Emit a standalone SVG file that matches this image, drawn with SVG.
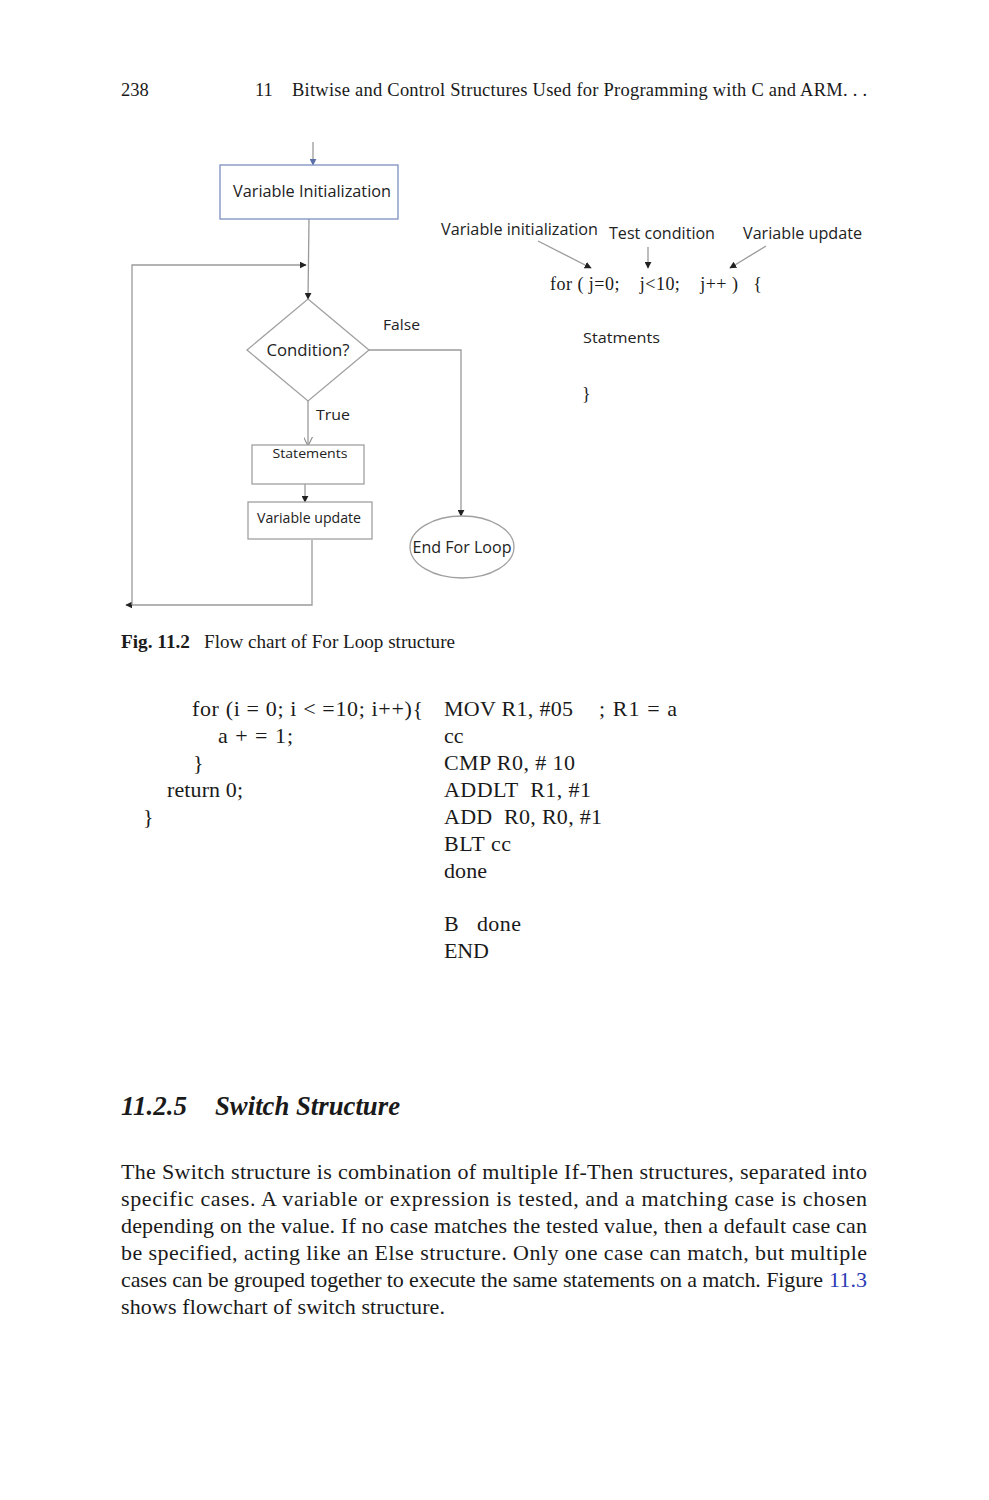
<svg xmlns="http://www.w3.org/2000/svg" width="989" height="1500" viewBox="0 0 989 1500">
<defs>
<style>
.serif{font-family:"Liberation Serif","Times New Roman",serif;fill:#1a1a1a}
.sans{font-family:"Open Sans","Liberation Sans",sans-serif;fill:#222}
.ln{fill:none;stroke:#9a9a9a;stroke-width:1.3}
.box{fill:#fff;stroke:#a0a0a0;stroke-width:1.3}
.code{font-size:22px}
.para{font-size:22px}
</style>
<marker id="ah" viewBox="0 0 10 10" refX="9" refY="5" markerWidth="7" markerHeight="7" orient="auto" markerUnits="userSpaceOnUse">
<path d="M0,0 L10,5 L0,10 z" fill="#222"/>
</marker>
<marker id="ahb" viewBox="0 0 10 10" refX="9" refY="5" markerWidth="7" markerHeight="7" orient="auto" markerUnits="userSpaceOnUse">
<path d="M0,0 L10,5 L0,10 z" fill="#5a6fa8"/>
</marker>
<marker id="aho" viewBox="0 0 10 10" refX="9" refY="5" markerWidth="9" markerHeight="9" orient="auto" markerUnits="userSpaceOnUse">
<path d="M0,0 L10,5 L0,10" fill="none" stroke="#888" stroke-width="1.2"/>
</marker>
</defs>
<rect width="989" height="1500" fill="#fff"/>

<g id="header">
<text class="serif" x="121" y="96" font-size="18.5">238</text>
<text class="serif" x="255" y="96" font-size="18.5">11</text>
<text class="serif" x="292" y="96" font-size="18.5" textLength="575" lengthAdjust="spacing">Bitwise and Control Structures Used for Programming with C and ARM. . .</text>
</g>

<g id="connectors">
<line class="ln" x1="313" y1="142" x2="313" y2="165" stroke="#8fa0cc" marker-end="url(#ahb)"/>
<line class="ln" x1="309" y1="219" x2="308" y2="299" marker-end="url(#ah)"/>
<path class="ln" d="M312,540 V605 H126" marker-end="url(#ah)"/>
<path class="ln" d="M132,605 V265 H306" marker-end="url(#ah)"/>
<path class="ln" d="M369,350 H461 V516" marker-end="url(#ah)"/>
<line class="ln" x1="308" y1="401" x2="308" y2="445" marker-end="url(#aho)"/>
<line class="ln" x1="305" y1="481" x2="305" y2="502" marker-end="url(#ah)"/>
<line class="ln" x1="538" y1="241" x2="591" y2="268" stroke="#888" marker-end="url(#ah)"/>
<line class="ln" x1="648" y1="247" x2="648" y2="268" stroke="#888" marker-end="url(#ah)"/>
<line class="ln" x1="766" y1="246" x2="730" y2="268" stroke="#888" marker-end="url(#ah)"/>
</g>

<g id="node-init">
<rect x="220" y="165" width="178" height="54" fill="#fff" stroke="#7d8fc0" stroke-width="1.3"/>
<text class="sans" x="312" y="197" font-size="16" text-anchor="middle" textLength="158" lengthAdjust="spacingAndGlyphs">Variable Initialization</text>
</g>

<g id="node-condition">
<polygon class="box" points="308,299 369,350 308,401 247,350"/>
<text class="sans" x="308" y="356" font-size="16" text-anchor="middle" textLength="83" lengthAdjust="spacingAndGlyphs">Condition?</text>
</g>

<g id="label-false"><text class="sans" x="383" y="330" font-size="15" textLength="37" lengthAdjust="spacingAndGlyphs">False</text></g>
<g id="label-true"><text class="sans" x="316" y="420" font-size="15" textLength="34" lengthAdjust="spacingAndGlyphs">True</text></g>

<g id="node-statements">
<rect class="box" x="252" y="445" width="112" height="39"/>
<text class="sans" x="310" y="458" font-size="13" text-anchor="middle" textLength="75" lengthAdjust="spacingAndGlyphs">Statements</text>
</g>

<g id="node-update">
<rect class="box" x="248" y="502" width="124" height="37"/>
<text class="sans" x="309" y="523" font-size="14" text-anchor="middle" textLength="104" lengthAdjust="spacingAndGlyphs">Variable update</text>
</g>

<g id="node-end">
<ellipse class="box" cx="462" cy="547" rx="52" ry="31"/>
<text class="sans" x="462" y="553" font-size="15.5" text-anchor="middle" textLength="99" lengthAdjust="spacingAndGlyphs">End For Loop</text>
</g>

<g id="annotation">
<text class="sans" x="441" y="235" font-size="15.5" textLength="157" lengthAdjust="spacingAndGlyphs">Variable initialization</text>
<text class="sans" x="609" y="239" font-size="15.5" textLength="106" lengthAdjust="spacingAndGlyphs">Test condition</text>
<text class="sans" x="743" y="239" font-size="15.5" textLength="119" lengthAdjust="spacingAndGlyphs">Variable update</text>
<text class="serif" x="550" y="290" font-size="18" xml:space="preserve" textLength="212" lengthAdjust="spacing">for ( j=0;    j&lt;10;    j++ )   {</text>
<text class="sans" x="583" y="343" font-size="15" textLength="77" lengthAdjust="spacingAndGlyphs">Statments</text>
<text class="serif" x="582" y="400" font-size="18">}</text>
</g>

<g id="caption">
<text class="serif" x="121" y="648" font-size="18.5" font-weight="bold" textLength="69" lengthAdjust="spacingAndGlyphs">Fig. 11.2</text>
<text class="serif" x="204" y="648" font-size="18.5" textLength="251" lengthAdjust="spacingAndGlyphs">Flow chart of For Loop structure</text>
</g>

<g id="code">
<text class="serif code" x="192" y="716" textLength="231" lengthAdjust="spacing">for (i = 0; i &lt; =10; i++){</text>
<text class="serif code" x="218" y="743" textLength="75" lengthAdjust="spacing">a + = 1;</text>
<text class="serif code" x="193" y="770">}</text>
<text class="serif code" x="167" y="797" textLength="76" lengthAdjust="spacing">return 0;</text>
<text class="serif code" x="143" y="824">}</text>
<text class="serif code" x="444" y="716" textLength="129" lengthAdjust="spacing">MOV R1, #05</text>
<text class="serif code" x="599" y="716" textLength="78" lengthAdjust="spacing">; R1 = a</text>
<text class="serif code" x="444" y="743">cc</text>
<text class="serif code" x="444" y="770" textLength="131" lengthAdjust="spacing">CMP R0, # 10</text>
<text class="serif code" x="444" y="797" xml:space="preserve" textLength="147" lengthAdjust="spacing">ADDLT  R1, #1</text>
<text class="serif code" x="444" y="824" xml:space="preserve" textLength="158" lengthAdjust="spacing">ADD  R0, R0, #1</text>
<text class="serif code" x="444" y="851" textLength="67" lengthAdjust="spacing">BLT cc</text>
<text class="serif code" x="444" y="878" textLength="43" lengthAdjust="spacing">done</text>
<text class="serif code" x="444" y="931" xml:space="preserve" textLength="77" lengthAdjust="spacing">B   done</text>
<text class="serif code" x="444" y="958" textLength="45" lengthAdjust="spacing">END</text>
</g>

<g id="section">
<text class="serif" x="121" y="1115" font-size="26.5" font-weight="bold" font-style="italic" textLength="66" lengthAdjust="spacingAndGlyphs">11.2.5</text>
<text class="serif" x="215" y="1115" font-size="26.5" font-weight="bold" font-style="italic" textLength="185" lengthAdjust="spacingAndGlyphs">Switch Structure</text>
<text class="serif para" x="121" y="1179" textLength="746" lengthAdjust="spacing">The Switch structure is combination of multiple If-Then structures, separated into</text>
<text class="serif para" x="121" y="1206" textLength="746" lengthAdjust="spacing">specific cases. A variable or expression is tested, and a matching case is chosen</text>
<text class="serif para" x="121" y="1233" textLength="746" lengthAdjust="spacing">depending on the value. If no case matches the tested value, then a default case can</text>
<text class="serif para" x="121" y="1260" textLength="746" lengthAdjust="spacing">be specified, acting like an Else structure. Only one case can match, but multiple</text>
<text class="serif para" x="121" y="1287" textLength="702" lengthAdjust="spacing">cases can be grouped together to execute the same statements on a match. Figure</text>
<text class="serif para" x="829" y="1287" style="fill:#2a3bb5" textLength="38" lengthAdjust="spacing">11.3</text>
<text class="serif para" x="121" y="1314" textLength="324" lengthAdjust="spacing">shows flowchart of switch structure.</text>
</g>
</svg>
